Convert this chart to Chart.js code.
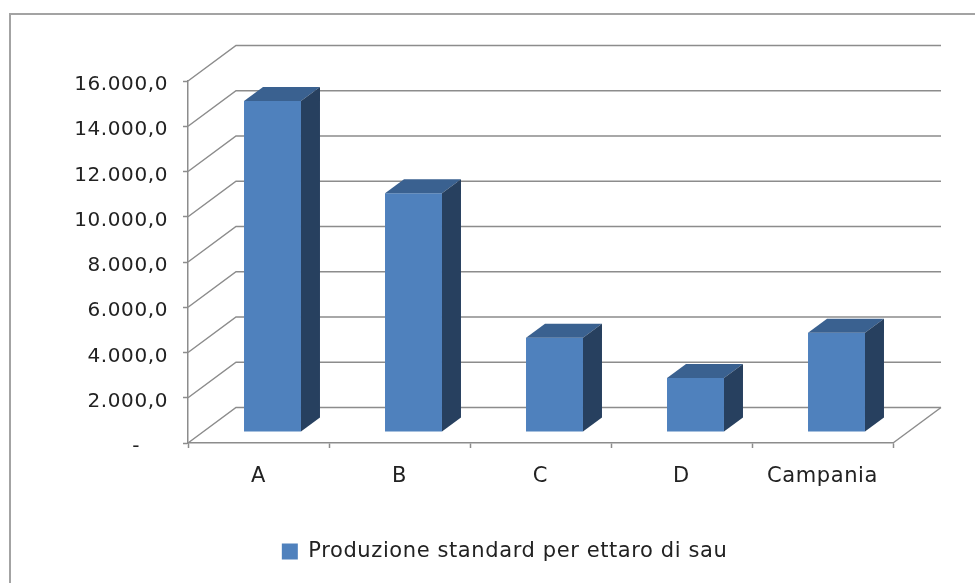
<!DOCTYPE html>
<html>
<head>
<meta charset="utf-8">
<style>
  body { margin: 0; background: #fff; }
  canvas { display: block; }
</style>
<script src="https://cdn.jsdelivr.net/npm/chart.js@4"></script>
</head>
<body>
<canvas id="myChart" width="975" height="583"></canvas>
<script>
var categories = ["A", "B", "C", "D", "Campania"];
var seriesName = "Produzione standard per ettaro di sau";
var seriesValues = [14630, 10550, 4170, 2390, 4390];
var yTickLabels = ["-\u00a0\u00a0\u00a0\u00a0", "2.000,0", "4.000,0", "6.000,0", "8.000,0", "10.000,0", "12.000,0", "14.000,0", "16.000,0"];

var lineColor = "#8c8c8c";
var textColor = "#222222";
var fontFamily = "'DejaVu Sans'";
var wallX = 48, wallY = -35.5;   // depth of the back wall
var barX = 14, barY = -11;       // where the bars stand on the floor
var sideX = 19, sideY = -14;     // depth of a bar

var fake3d = {
  id: "fake3d",
  afterLayout: function (chart) {
    // labels are clipped to the scale box, so give them room on the left
    chart.scales.y.left = 30;
  },
  beforeDraw: function (chart) {
    const ctx = chart.ctx;
    ctx.letterSpacing = "0.6px";
    ctx.save();
    ctx.strokeStyle = "#a3a3a3";
    ctx.lineWidth = 2;
    ctx.beginPath();
    ctx.moveTo(10, 583);
    ctx.lineTo(10, 14);
    ctx.lineTo(975, 14);
    ctx.stroke();
    ctx.restore();
  },
  beforeDatasetsDraw: function (chart) {
    const ctx = chart.ctx;
    const x = chart.scales.x, y = chart.scales.y;
    ctx.save();
    ctx.strokeStyle = lineColor;
    ctx.lineWidth = 1.5;
    y.ticks.forEach(function (t) {
      const py = y.getPixelForValue(t.value);
      ctx.beginPath();
      ctx.moveTo(x.left, py);
      ctx.lineTo(x.left + wallX, py + wallY);
      ctx.lineTo(x.right + wallX, py + wallY);
      ctx.stroke();
    });
    ctx.beginPath();
    ctx.moveTo(x.right, y.bottom);
    ctx.lineTo(x.right + wallX, y.bottom + wallY);
    ctx.stroke();
    ctx.restore();
    // bars stand a little behind the front of the floor
    ctx.save();
    ctx.translate(barX, barY);
  },
  afterDatasetsDraw: function (chart) {
    const ctx = chart.ctx;
    ctx.restore();
    chart.getDatasetMeta(0).data.forEach(function (bar) {
      const l = bar.x - bar.width / 2 + barX;
      const r = bar.x + bar.width / 2 + barX;
      const t = bar.y + barY;
      const b = bar.base + barY;
      ctx.fillStyle = "#3a6190";
      ctx.beginPath();
      ctx.moveTo(l, t);
      ctx.lineTo(l + sideX, t + sideY);
      ctx.lineTo(r + sideX, t + sideY);
      ctx.lineTo(r, t);
      ctx.closePath();
      ctx.fill();
      ctx.fillStyle = "#27405f";
      ctx.beginPath();
      ctx.moveTo(r, t);
      ctx.lineTo(r + sideX, t + sideY);
      ctx.lineTo(r + sideX, b + sideY);
      ctx.lineTo(r, b);
      ctx.closePath();
      ctx.fill();
    });
  }
};

new Chart("myChart", {
  type: "bar",
  data: {
    labels: categories,
    datasets: [{
      label: seriesName,
      data: seriesValues,
      backgroundColor: "#4f81bd",
      categoryPercentage: 1,
      barPercentage: 0.404
    }]
  },
  options: {
    responsive: false,
    animation: false,
    layout: { padding: { left: 94, right: 82, top: 81, bottom: 11 } },
    scales: {
      x: {
        afterFit: function (scale) { scale.height = 98; },
        border: { color: lineColor, width: 1.5 },
        grid: { drawOnChartArea: false, tickLength: 5, tickColor: lineColor, tickWidth: 1.5 },
        ticks: { color: textColor, padding: 16, maxRotation: 0, font: { family: fontFamily, size: 21 } }
      },
      y: {
        min: 0,
        max: 16000,
        afterFit: function (scale) { scale.width = 94; },
        border: { color: lineColor, width: 1.5 },
        grid: { drawOnChartArea: false, tickLength: 5, tickColor: lineColor, tickWidth: 1.5 },
        ticks: {
          stepSize: 2000,
          color: textColor,
          padding: 15,
          labelOffset: 4,
          font: { family: fontFamily, size: 20 },
          callback: function (value, index) { return yTickLabels[index]; }
        }
      }
    },
    plugins: {
      legend: {
        position: "bottom",
        labels: { boxWidth: 16, boxHeight: 16, padding: 0, color: textColor, font: { family: fontFamily, size: 21 } }
      },
      tooltip: { enabled: false }
    }
  },
  plugins: [fake3d]
});
</script>
</body>
</html>
